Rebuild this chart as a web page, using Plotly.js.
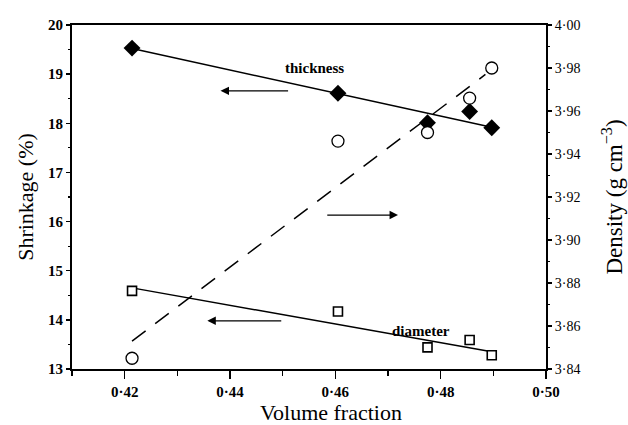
<!DOCTYPE html>
<html>
<head>
<meta charset="utf-8">
<script src="https://cdn.plot.ly/plotly-3.0.1.min.js"></script>
<style>
  html, body { margin: 0; padding: 0; background: #fff; }
  #chart { width: 628px; height: 425px; }
</style>
</head>
<body>
<div id="chart"></div>
<script>
// Sintered samples: volume fraction vs. shrinkage and density
const volumeFraction = [0.4214, 0.4605, 0.4775, 0.4855, 0.4897];
const thicknessShrinkage = [19.53, 18.61, 18.01, 18.24, 17.91];
const diameterShrinkage = [14.59, 14.17, 13.44, 13.59, 13.28];
const density = [3.845, 3.946, 3.950, 3.966, 3.980];

// Straight-line fits (end points)
const thicknessFitX = [0.4214, 0.4897];
const thicknessFitY = [19.52, 17.92];
const diameterFitX = [0.4214, 0.4897];
const diameterFitY = [14.65, 13.35];
const densityFitX = [0.4214, 0.4885];
const densityFitY = [3.853, 3.977];

// Axis ticks
const xTicks = [0.42, 0.44, 0.46, 0.48, 0.50];
const shrinkTicks = [13, 14, 15, 16, 17, 18, 19, 20];
const densityTicks = [3.84, 3.86, 3.88, 3.90, 3.92, 3.94, 3.96, 3.98, 4.00];

const serif = 'Liberation Serif, Times New Roman, serif';

const traces = [
  { x: thicknessFitX, y: thicknessFitY, mode: 'lines', yaxis: 'y',
    line: { color: '#000', width: 1.5 }, hoverinfo: 'skip' },
  { x: diameterFitX, y: diameterFitY, mode: 'lines', yaxis: 'y',
    line: { color: '#000', width: 1.4 }, hoverinfo: 'skip' },
  { x: densityFitX, y: densityFitY, mode: 'lines', yaxis: 'y2',
    line: { color: '#000', width: 1.5, dash: '17px,12px' }, hoverinfo: 'skip' },
  { x: volumeFraction, y: density, mode: 'markers', yaxis: 'y2', name: 'density',
    marker: { symbol: 'circle', size: 12, color: '#fff', line: { color: '#000', width: 1.3 } } },
  { x: volumeFraction, y: diameterShrinkage, mode: 'markers', yaxis: 'y', name: 'diameter',
    marker: { symbol: 'square', size: 9, color: '#fff', line: { color: '#000', width: 1.6 } } },
  { x: volumeFraction, y: thicknessShrinkage, mode: 'markers', yaxis: 'y', name: 'thickness',
    marker: { symbol: 'diamond', size: 13, color: '#000', line: { color: '#000', width: 0 } } }
];

function arrow(x, y, ax, ay, yref) {
  return { x: x, y: y, ax: ax, ay: ay, xref: 'x', yref: yref, axref: 'x', ayref: yref,
    text: ' ', showarrow: true, arrowhead: 2, arrowsize: 1.3, arrowwidth: 1.3, arrowcolor: '#000' };
}

const layout = {
  width: 628, height: 425,
  margin: { l: 72, r: 82, t: 25, b: 56, pad: 0 },
  paper_bgcolor: '#fff', plot_bgcolor: '#fff',
  showlegend: false,
  separators: '\u00b7,',
  font: { family: serif, color: '#000' },
  xaxis: {
    range: [0.41, 0.50], tickvals: xTicks, tickformat: '.2f',
    ticks: 'outside', ticklen: 8, tickwidth: 1.5, tickcolor: '#000',
    minor: { dtick: 0.01, ticks: 'outside', ticklen: 5, tickwidth: 1.3, tickcolor: '#000' },
    showline: true, linecolor: '#000', linewidth: 2, mirror: true,
    showgrid: false, zeroline: false,
    tickfont: { family: serif, size: 15, color: '#000', weight: 'bold' }
  },
  yaxis: {
    range: [13, 20], tickvals: shrinkTicks,
    ticks: 'outside', ticklen: 4, tickwidth: 1.5, tickcolor: '#000',
    minor: { dtick: 0.5, ticks: 'outside', ticklen: 2, tickwidth: 1.2, tickcolor: '#000' },
    showline: true, linecolor: '#000', linewidth: 2,
    showgrid: false, zeroline: false,
    tickfont: { family: serif, size: 15, color: '#000', weight: 'bold' },
    title: { text: 'Shrinkage (%)', font: { family: serif, size: 22, color: '#000' }, standoff: 8 }
  },
  yaxis2: {
    overlaying: 'y', side: 'right',
    range: [3.84, 4.00], tickvals: densityTicks, tickformat: '.2f',
    ticks: 'outside', ticklen: 4, tickwidth: 1.2, tickcolor: '#000',
    minor: { dtick: 0.01, ticks: 'outside', ticklen: 2, tickwidth: 1, tickcolor: '#000' },
    showline: true, linecolor: '#000', linewidth: 2,
    showgrid: false, zeroline: false,
    tickfont: { family: serif, size: 14, color: '#000' },
    title: { text: 'Density (g cm<sup>\u22123</sup>)', font: { family: serif, size: 23, color: '#000' }, standoff: 26 }
  },
  annotations: [
    { x: 0.547, y: -0.127, xref: 'paper', yref: 'paper', xanchor: 'center', yanchor: 'middle',
      text: 'Volume fraction', showarrow: false,
      font: { family: serif, size: 22, color: '#000' } },
    { x: 0.4560, y: 19.13, xref: 'x', yref: 'y', text: 'thickness', showarrow: false,
      font: { family: serif, size: 15, color: '#000', weight: 'bold' } },
    { x: 0.4762, y: 13.78, xref: 'x', yref: 'y', text: 'diameter', showarrow: false,
      font: { family: serif, size: 15, color: '#000', weight: 'bold' } },
    arrow(0.4382, 18.66, 0.4516, 18.66, 'y'),
    arrow(0.4719, 3.9116, 0.4579, 3.9116, 'y2'),
    arrow(0.4357, 13.98, 0.4503, 13.98, 'y')
  ]
};

Plotly.newPlot('chart', traces, layout, { displayModeBar: false, staticPlot: true });
</script>
</body>
</html>
